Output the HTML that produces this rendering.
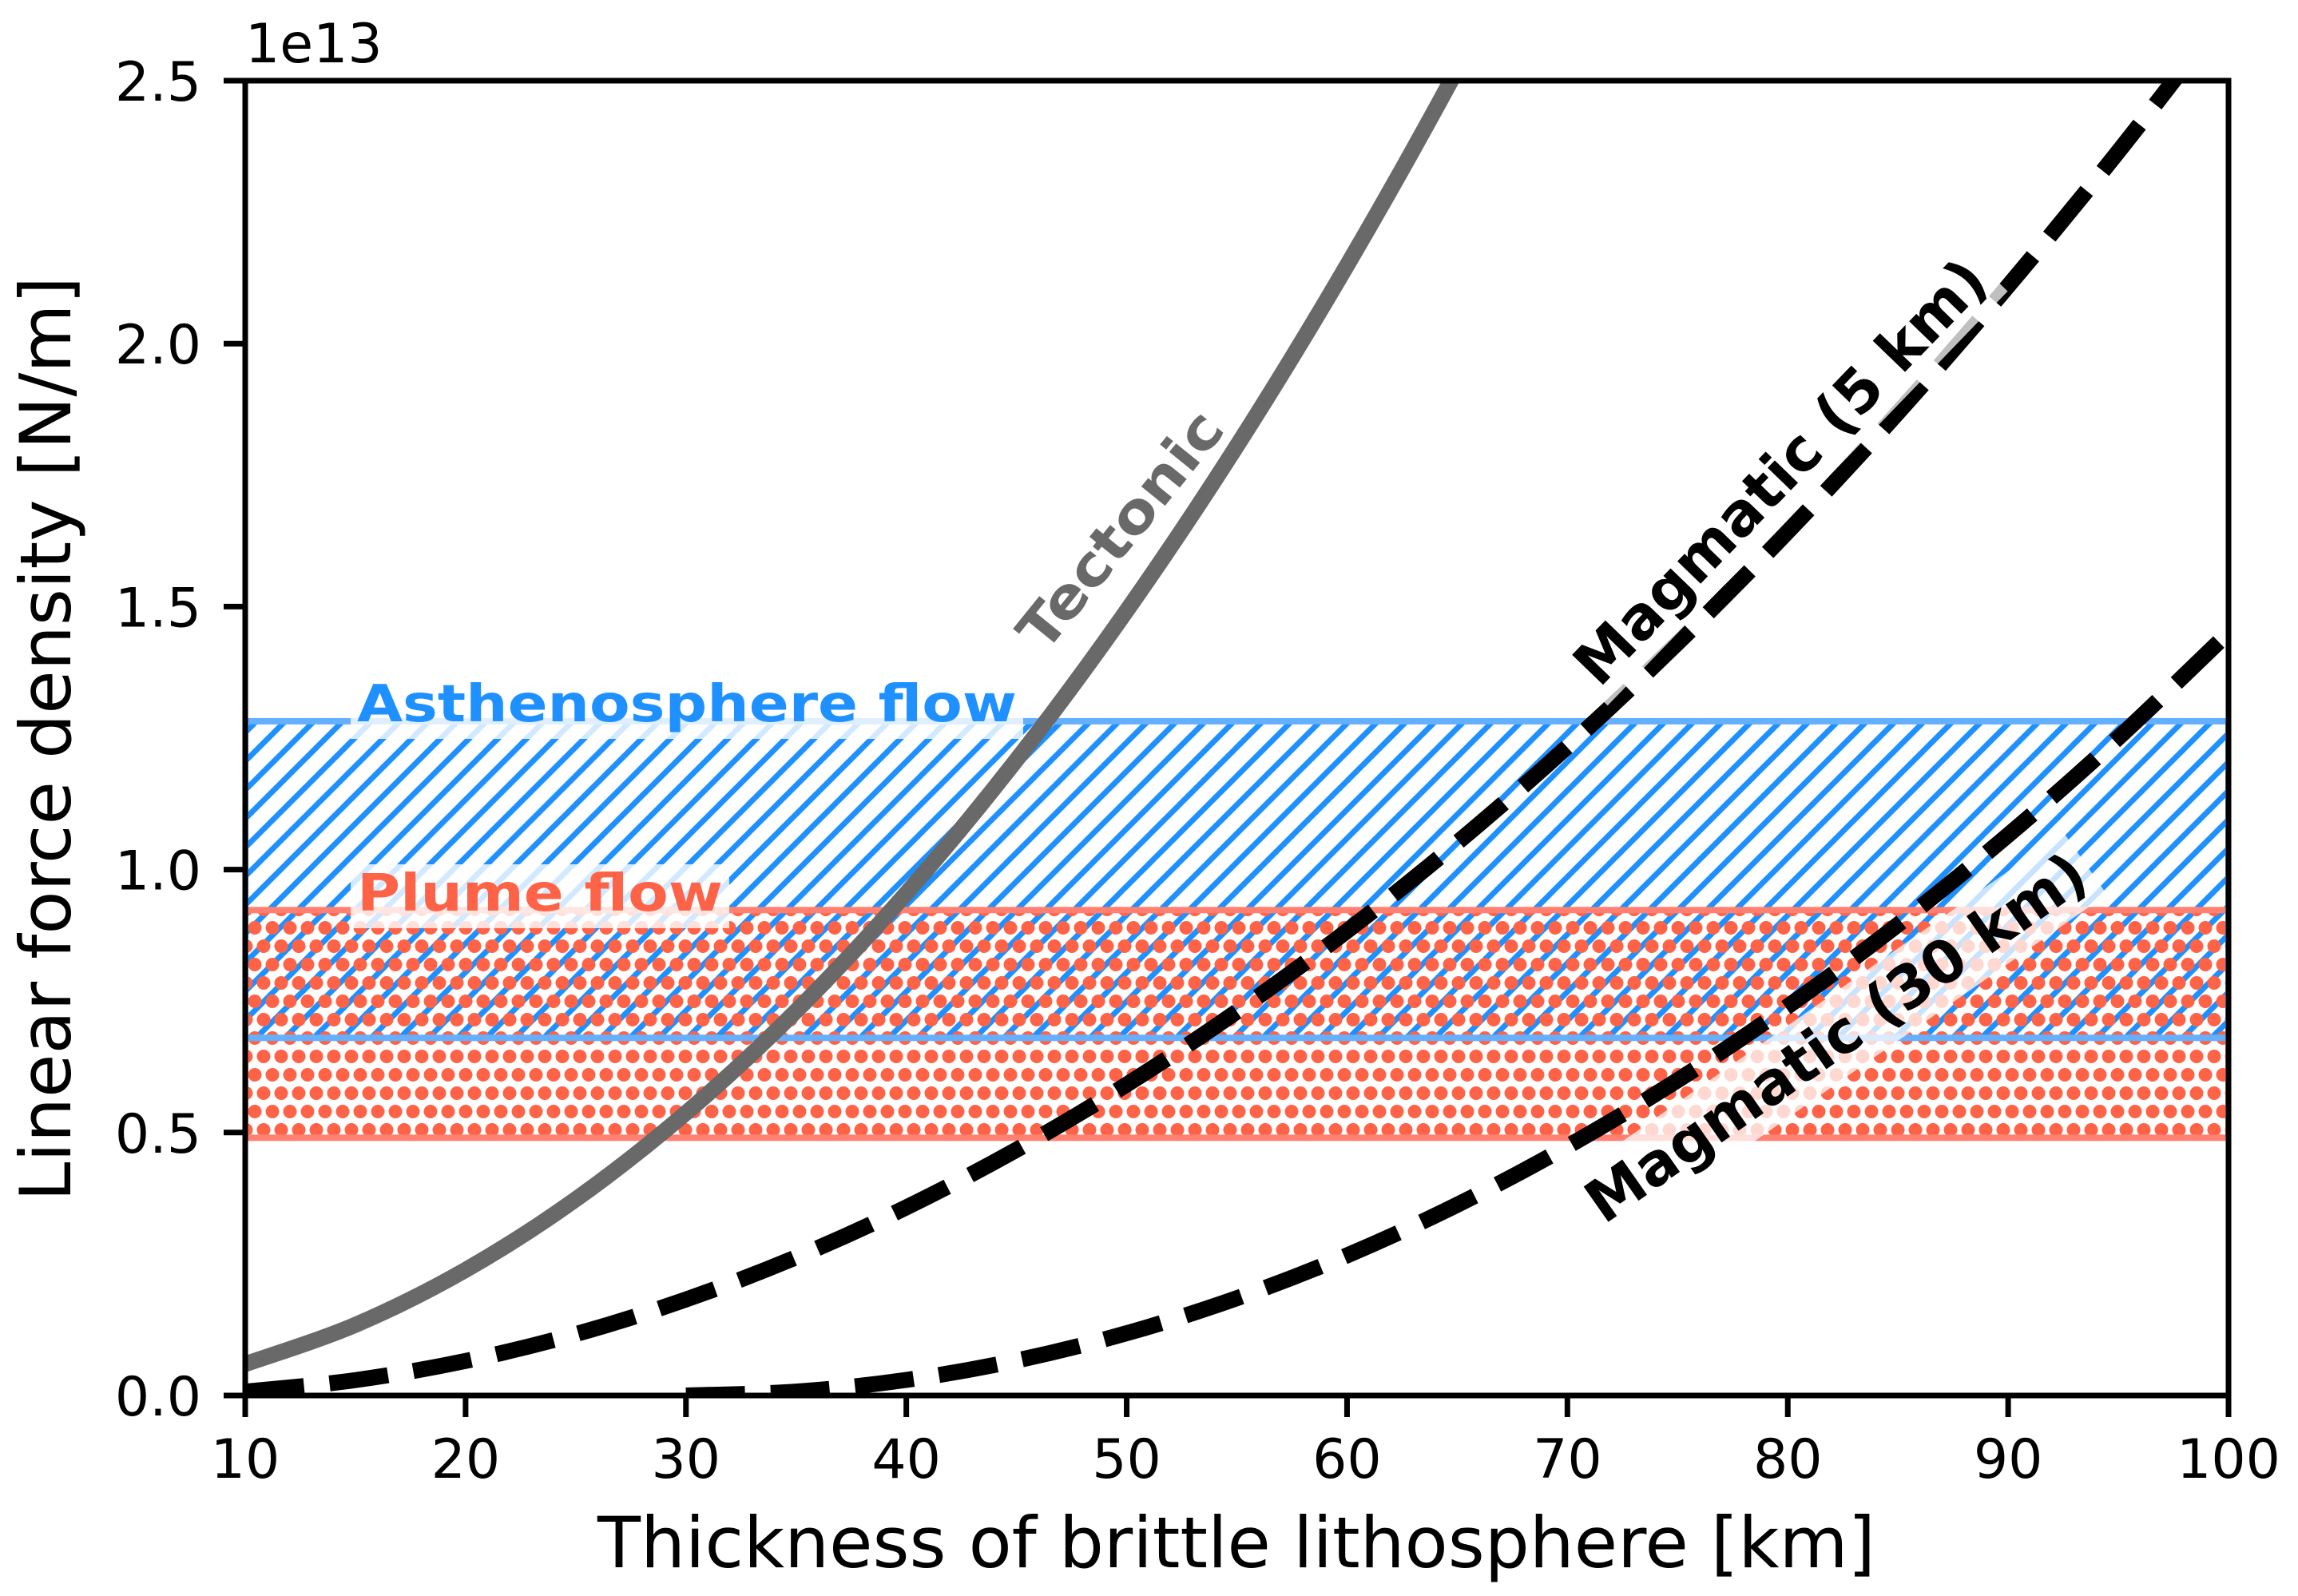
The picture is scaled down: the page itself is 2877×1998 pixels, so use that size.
<!DOCTYPE html>
<html><head><meta charset="utf-8"><style>html,body{margin:0;padding:0;background:#fff}svg{display:block}</style></head>
<body>
<svg id="chart" width="2877" height="1998" viewBox="0 0 2877 1998" xmlns="http://www.w3.org/2000/svg" font-family="'DejaVu Sans','Liberation Sans',sans-serif">
<defs>
<clipPath id="plotclip"><rect x="307" y="101" width="2483" height="1646"/></clipPath>
<pattern id="hatchBlue" patternUnits="userSpaceOnUse" width="36" height="36">
<path d="M-9,9 L9,-9 M0,36 L36,0 M27,45 L45,27" stroke="#1e90ff" stroke-width="7"/>
</pattern>
<pattern id="dotsRed" patternUnits="userSpaceOnUse" width="22" height="46">
<circle cx="11" cy="11.5" r="8.5" fill="#ff6347"/>
<circle cx="0" cy="34.5" r="8.5" fill="#ff6347"/>
<circle cx="22" cy="34.5" r="8.5" fill="#ff6347"/>
</pattern>
</defs>
<rect width="2877" height="1998" fill="#fff"/>
<g id="plot" clip-path="url(#plotclip)"></g>
<g id="labels"></g>
<g id="axes"></g>
</svg>
<script>
const NS='http://www.w3.org/2000/svg';
const xTicks=[10,20,30,40,50,60,70,80,90,100];
const yTicks=[0,0.5,1.0,1.5,2.0,2.5];
const yTickLabels=['0.0','0.5','1.0','1.5','2.0','2.5'];
const asthenoBand=[0.68,1.282];
const plumeBand=[0.49,0.923];
const tectonicX=[10,15,20,25,30,35,40,45,50,55,60,65,70];
const tectonicY=[0.0597,0.1343,0.2388,0.373,0.5372,0.7311,0.955,1.2086,1.4922,1.8055,2.1488,2.5218,2.925];
const mag5X=[10,15,20,25,30,35,40,45,50,55,60,65,70,75,80,85,90,95,100];
const mag5Y=[0.0073,0.0292,0.0657,0.1168,0.1825,0.2628,0.3577,0.4672,0.5913,0.73,0.8833,1.0512,1.2337,1.4308,1.6425,1.8688,2.1097,2.3652,2.6353];
const mag30X=[30,35,40,45,50,55,60,65,70,75,80,85,90,95,100];
const mag30Y=[0,0.0074,0.0296,0.0666,0.1184,0.185,0.2664,0.3626,0.4736,0.5994,0.74,0.8954,1.0656,1.2506,1.4504];

const L=307,R=2790,T=101,B=1747;
const xs=v=>L+(v-10)/90*(R-L);
const ys=v=>B-v/2.5*(B-T);
function mk(tag,attrs,parent){const e=document.createElementNS(NS,tag);for(const k in attrs)e.setAttribute(k,attrs[k]);parent.appendChild(e);return e;}
const plot=document.getElementById('plot'),labels=document.getElementById('labels'),axes=document.getElementById('axes');

function band(b,fill,name){
  const g=mk('g',{},plot);
  
  
  mk('rect',{x:L,y:ys(b[1]),width:R-L,height:ys(b[0])-ys(b[1]),fill:fill},g);
  return g;
}
function bandEdge(b,edge,name){
  const r=mk('rect',{x:L,y:ys(b[1]),width:R-L,height:ys(b[0])-ys(b[1]),fill:'none',stroke:edge,'stroke-width':8},plot);
  
  
}
band(asthenoBand,'url(#hatchBlue)','asthenosphere-band');
band(plumeBand,'url(#dotsRed)','plume-band');
bandEdge(plumeBand,'#ff8070','plume-band-edge');
bandEdge(asthenoBand,'#64b0ff','asthenosphere-band-edge');

function smoothPath(X,Y){
  const p=X.map((x,i)=>[xs(x),ys(Y[i])]);
  let d='M'+p[0][0]+','+p[0][1];
  for(let i=0;i<p.length-1;i++){
    const p0=p[Math.max(0,i-1)],p1=p[i],p2=p[i+1],p3=p[Math.min(p.length-1,i+2)];
    const c1=[p1[0]+(p2[0]-p0[0])/6,p1[1]+(p2[1]-p0[1])/6];
    const c2=[p2[0]-(p3[0]-p1[0])/6,p2[1]-(p3[1]-p1[1])/6];
    d+=' C'+c1[0]+','+c1[1]+' '+c2[0]+','+c2[1]+' '+p2[0]+','+p2[1];
  }
  return d;
}
const tec=mk('path',{d:smoothPath(tectonicX,tectonicY),fill:'none',stroke:'#696969','stroke-width':20},plot);


const m5=mk('path',{d:smoothPath(mag5X,mag5Y),fill:'none',stroke:'#000','stroke-width':20,'stroke-dasharray':'74 32'},plot);


const m30=mk('path',{d:smoothPath(mag30X,mag30Y),fill:'none',stroke:'#000','stroke-width':20,'stroke-dasharray':'74 32'},plot);



function label(txt,cx,cy,ang,color,name,bg,w,fs){
  const g=mk('g',{transform:'translate('+cx+','+cy+') rotate('+ang+')'},labels);
  
  
  if(bg){mk('rect',{x:-w/2-8,y:-fs*0.62,width:w+16,height:fs*1.28,fill:'#fff','fill-opacity':0.75},g);}
  const t=mk('text',{x:0,y:fs*0.36,'text-anchor':'middle','font-size':fs,'font-weight':'bold',fill:color,textLength:w,lengthAdjust:'spacingAndGlyphs'},g);
  t.textContent=txt;
}
label('Tectonic',1402,663,-51,'#696969','tectonic-label',false,362,70);
label('Magmatic (5 km)',2228,590,-46,'#000','magmatic-5km-label',true,705,74);
label('Magmatic (30 km)',2298,1298,-35,'#000','magmatic-30km-label',true,745,74);

function bandLabel(txt,x,base,w,color,name){
  const g=mk('g',{},labels);
  
  
  mk('rect',{x:x-8,y:base-58,width:w+16,height:80,fill:'#fff','fill-opacity':0.8},g);
  const t=mk('text',{x:x,y:base,'font-size':64,'font-weight':'bold',fill:color,textLength:w,lengthAdjust:'spacingAndGlyphs'},g);
  t.textContent=txt;
}
bandLabel('Asthenosphere flow',447,903,826,'#1e90ff','asthenosphere-label');
bandLabel('Plume flow',447,1140,458,'#ff6347','plume-label');

const frame=mk('rect',{x:L,y:T,width:R-L,height:B-T,fill:'none',stroke:'#000','stroke-width':7},axes);


xTicks.forEach(v=>{
  const tk=mk('line',{x1:xs(v),x2:xs(v),y1:B,y2:B+27,stroke:'#000','stroke-width':7},axes);
  
  
  const t=mk('text',{x:xs(v),y:1850,'font-size':68,'text-anchor':'middle',fill:'#000'},axes);
  
  
  t.textContent=String(v);
});
yTicks.forEach((v,i)=>{
  const tk=mk('line',{x1:L-27,x2:L,y1:ys(v),y2:ys(v),stroke:'#000','stroke-width':7},axes);
  
  
  const t=mk('text',{x:252,y:ys(v)+25,'font-size':68,'text-anchor':'end',fill:'#000'},axes);
  
  
  t.textContent=yTickLabels[i];
});
const off=mk('text',{x:307,y:78,'font-size':68,fill:'#000'},axes);


off.textContent='1e13';
const xl=mk('text',{x:1548,y:1962,'font-size':88,'text-anchor':'middle',fill:'#000',textLength:1600,lengthAdjust:'spacingAndGlyphs'},axes);


xl.textContent='Thickness of brittle lithosphere [km]';
const yl=mk('text',{x:0,y:0,'font-size':88,'text-anchor':'middle',fill:'#000',textLength:1158,lengthAdjust:'spacingAndGlyphs',transform:'translate(88,925) rotate(-90)'},axes);


yl.textContent='Linear force density [N/m]';
</script>
</body></html>
